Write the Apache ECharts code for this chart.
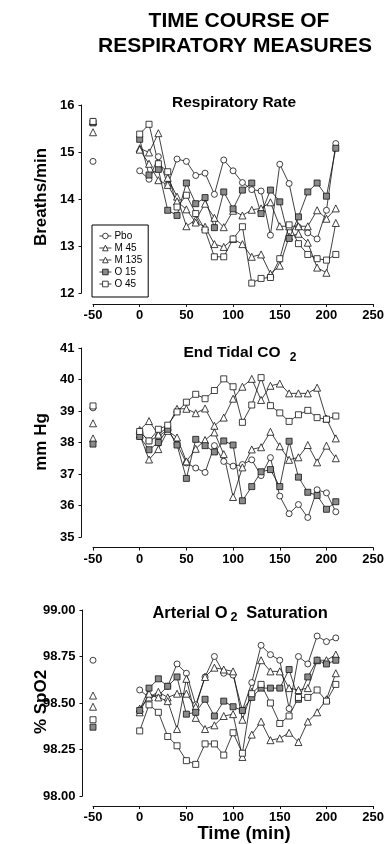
<!DOCTYPE html>
<html>
<head>
<meta charset="utf-8">
<script src="https://cdn.jsdelivr.net/npm/echarts@6/dist/echarts.min.js"></script>
<style>
html,body{margin:0;padding:0;background:#fff;}
#chart{width:387px;height:844px;}
</style>
</head>
<body>
<div id="chart"></div>
<script>
// ---- data ----
const seriesNames = ['Pbo', 'M 45', 'M 135', 'O 15', 'O 45'];
const times = [0, 10, 20, 30, 40, 50, 60, 70, 80, 90, 100, 110, 120, 130, 140, 150, 160, 170, 180, 190, 200, 210];
const baselineTime = -50;
const xTicks = [-50, 0, 50, 100, 150, 200, 250];

// Respiratory rate (breaths/min)
const rrBaseline = [14.80, 15.42, 15.65, 15.62, 15.65];
const rrPbo  = [14.60, 14.42, 14.90, 14.30, 14.85, 14.80, 14.50, 14.55, 14.10, 14.83, 14.60, 14.35, 14.20, 14.17, 13.23, 14.74, 14.33, 13.40, 13.28, 13.15, 13.76, 15.18];
const rrM45  = [15.08, 14.99, 15.40, 14.45, 14.05, 13.42, 13.56, 13.90, 13.60, 13.40, 13.75, 13.65, 13.77, 13.80, 13.93, 13.42, 13.42, 13.42, 13.42, 13.76, 13.58, 13.80];
const rrM135 = [15.05, 14.75, 14.40, 14.30, 13.95, 13.78, 13.50, 13.41, 13.04, 12.98, 13.15, 13.04, 12.77, 12.82, 12.41, 12.58, 13.20, 13.26, 13.07, 12.54, 12.43, 13.49];
const rrO15  = [15.27, 14.51, 14.63, 13.76, 13.65, 14.34, 13.90, 14.03, 13.39, 14.15, 13.79, 14.19, 14.34, 13.69, 14.19, 13.94, 13.16, 13.62, 14.15, 14.34, 14.06, 15.08];
const rrO45  = [15.38, 15.59, 14.75, 14.58, 13.83, 14.08, 13.69, 13.34, 12.77, 12.77, 13.15, 13.41, 12.21, 12.31, 12.33, 12.73, 13.45, 13.05, 12.82, 12.73, 12.70, 12.82];

// End tidal CO2 (mm Hg)
const co2Baseline = [39.10, 38.61, 38.13, 37.95, 39.16];
const co2Pbo  = [38.35, 38.05, 38.20, 38.40, 37.95, 37.35, 37.19, 37.05, 37.90, 37.40, 37.25, 37.30, 37.45, 36.95, 37.52, 36.30, 35.74, 36.03, 35.62, 36.50, 36.40, 35.80];
const co2M45  = [38.40, 38.68, 38.25, 38.50, 39.07, 39.07, 38.93, 39.08, 38.53, 38.79, 39.39, 39.77, 40.02, 39.35, 39.80, 39.87, 39.56, 39.56, 39.56, 39.74, 38.76, 38.13];
const co2M135 = [38.25, 37.46, 37.79, 38.37, 38.16, 37.40, 37.80, 38.08, 38.32, 37.63, 36.27, 37.21, 37.78, 37.85, 38.34, 37.88, 37.45, 37.53, 37.92, 37.37, 37.90, 37.50];
const co2O15  = [38.19, 37.77, 38.00, 38.42, 37.92, 36.86, 38.10, 37.90, 37.70, 38.05, 37.92, 36.15, 36.60, 37.07, 37.14, 36.60, 38.04, 36.90, 36.42, 36.32, 35.88, 36.12];
const co2O45  = [38.35, 38.05, 38.42, 38.55, 38.97, 39.28, 39.53, 39.39, 39.65, 40.02, 39.77, 38.64, 39.19, 40.06, 39.17, 38.94, 38.67, 38.88, 39.02, 38.79, 38.74, 38.84];

// Arterial O2 saturation (% SpO2)
const spBaseline = [98.73, 98.54, 98.48, 98.37, 98.41];
const spPbo  = [98.57, 98.53, 98.54, 98.59, 98.71, 98.66, 98.49, 98.64, 98.75, 98.66, 98.65, 98.46, 98.61, 98.81, 98.76, 98.73, 98.47, 98.75, 98.71, 98.86, 98.83, 98.85];
const spM45  = [98.47, 98.53, 98.56, 98.53, 98.55, 98.55, 98.48, 98.64, 98.69, 98.68, 98.67, 98.41, 98.56, 98.73, 98.67, 98.67, 98.58, 98.57, 98.58, 98.73, 98.73, 98.76];
const spM135 = [98.45, 98.55, 98.53, 98.51, 98.36, 98.63, 98.42, 98.36, 98.38, 98.43, 98.44, 98.21, 98.33, 98.40, 98.30, 98.31, 98.34, 98.29, 98.40, 98.45, 98.52, 98.66];
const spO15  = [98.46, 98.58, 98.63, 98.59, 98.64, 98.44, 98.45, 98.52, 98.43, 98.51, 98.48, 98.46, 98.53, 98.58, 98.58, 98.58, 98.68, 98.52, 98.64, 98.73, 98.71, 98.73];
const spO45  = [98.35, 98.49, 98.45, 98.32, 98.27, 98.19, 98.17, 98.28, 98.28, 98.22, 98.34, 98.23, 98.55, 98.60, 98.50, 98.39, 98.43, 98.53, 98.53, 98.57, 98.51, 98.60];

const panels = [
  { values: [rrPbo, rrM45, rrM135, rrO15, rrO45], baseline: rrBaseline },
  { values: [co2Pbo, co2M45, co2M135, co2O15, co2O45], baseline: co2Baseline },
  { values: [spPbo, spM45, spM135, spO15, spO45], baseline: spBaseline }
];

// ---- styling ----
const FONT = '"Liberation Sans", Arial, Helvetica, sans-serif';
const INK = '#111';
const markerStyle = [
  { symbol: 'circle', size: 6, fill: '#ffffff' },
  { symbol: 'triangle', size: 7, fill: '#ffffff' },
  { symbol: 'triangle', size: 7, fill: '#ffffff' },
  { symbol: 'rect', size: 6, fill: '#8a8a8a' },
  { symbol: 'rect', size: 6, fill: '#ffffff' }
];

const gridDefs = [
  { top: 105, height: 188, xOffset: 11, yOffset: 11.5, min: 12, max: 16, interval: 1, dec: 0 },
  { top: 348, height: 189, xOffset: 10.5, yOffset: 11.5, min: 35, max: 41, interval: 1, dec: 0 },
  { top: 610, height: 186, xOffset: 10, yOffset: 10.5, min: 98, max: 99, interval: 0.25, dec: 2 }
];

const grids = [], xAxes = [], yAxes = [], series = [];
gridDefs.forEach((g, gi) => {
  grids.push({ left: 93, right: 13, top: g.top, height: g.height, containLabel: false });
  xAxes.push({
    type: 'value', gridIndex: gi, position: 'bottom', min: xTicks[0], max: xTicks[xTicks.length - 1], interval: 50,
    offset: g.xOffset,
    axisLine: { show: true, onZero: false, lineStyle: { color: INK, width: 1 } },
    axisTick: { show: true, length: 3, lineStyle: { color: INK } },
    axisLabel: { color: '#000', fontFamily: FONT, fontWeight: 'bold', fontSize: 13, margin: 5 },
    splitLine: { show: false }
  });
  yAxes.push({
    type: 'value', gridIndex: gi, position: 'left', min: g.min, max: g.max, interval: g.interval,
    offset: g.yOffset,
    axisLine: { show: true, onZero: false, lineStyle: { color: INK, width: 1 } },
    axisTick: { show: true, length: 3, lineStyle: { color: INK } },
    axisLabel: { color: '#000', fontFamily: FONT, fontWeight: 'bold', fontSize: 13, margin: 7,
      formatter: v => v.toFixed(g.dec) },
    splitLine: { show: false }
  });
  const p = panels[gi];
  seriesNames.forEach((name, si) => {
    const m = markerStyle[si];
    const data = [[baselineTime, p.baseline[si]], [-25, '-']];
    times.forEach((t, i) => data.push([t, p.values[si][i]]));
    series.push({
      type: 'line', name: name, xAxisIndex: gi, yAxisIndex: gi, data: data,
      symbol: m.symbol, symbolSize: m.size, showSymbol: true, connectNulls: false,
      lineStyle: { color: INK, width: 0.8 },
      itemStyle: { color: m.fill, borderColor: INK, borderWidth: 0.8 },
      emphasis: { disabled: true }, silent: true, animation: false
    });
  });
});

function txt(text, x, y, size, opts) {
  return Object.assign({
    type: 'text', x: x, y: y, silent: true,
    style: { text: text, fill: '#000', font: 'bold ' + size + 'px ' + FONT, textAlign: 'center', textVerticalAlign: 'middle' }
  }, opts || {});
}

const graphics = [
  txt('TIME COURSE OF', 239, 21, 21),
  txt('RESPIRATORY MEASURES', 235, 46, 21),
  txt('Respiratory Rate', 234, 103, 15.5),
  txt('End Tidal CO', 232, 353, 15.5),
  txt('2', 293, 358, 12),
  txt('Arterial O', 190, 613, 16.5),
  txt('2', 234, 618, 12.5),
  txt('Saturation', 287, 613, 16.5),
  txt('Breaths/min', 41, 197, 17, { rotation: Math.PI / 2 }),
  txt('mm Hg', 41, 442, 17, { rotation: Math.PI / 2 }),
  txt('% SpO2', 41, 702, 17, { rotation: Math.PI / 2 }),
  txt('Time (min)', 244, 834, 18.5)
];

const chart = echarts.init(document.getElementById('chart'), null, { renderer: 'canvas' });
chart.setOption({
  animation: false,
  backgroundColor: '#ffffff',
  grid: grids, xAxis: xAxes, yAxis: yAxes, series: series,
  legend: {
    data: seriesNames, orient: 'vertical', left: 92, top: 225,
    padding: [5, 6, 7, 7], itemGap: 0, itemWidth: 12, itemHeight: 7,
    borderColor: '#000', borderWidth: 1, backgroundColor: '#fff',
    itemStyle: { borderWidth: 0.8 },
    lineStyle: { width: 0.8 },
    textStyle: { fontFamily: FONT, fontSize: 10, lineHeight: 12, height: 12, color: '#000', padding: [0, 0, 0, -2] },
    selectedMode: false
  },
  graphic: graphics
});
</script>
</body>
</html>
